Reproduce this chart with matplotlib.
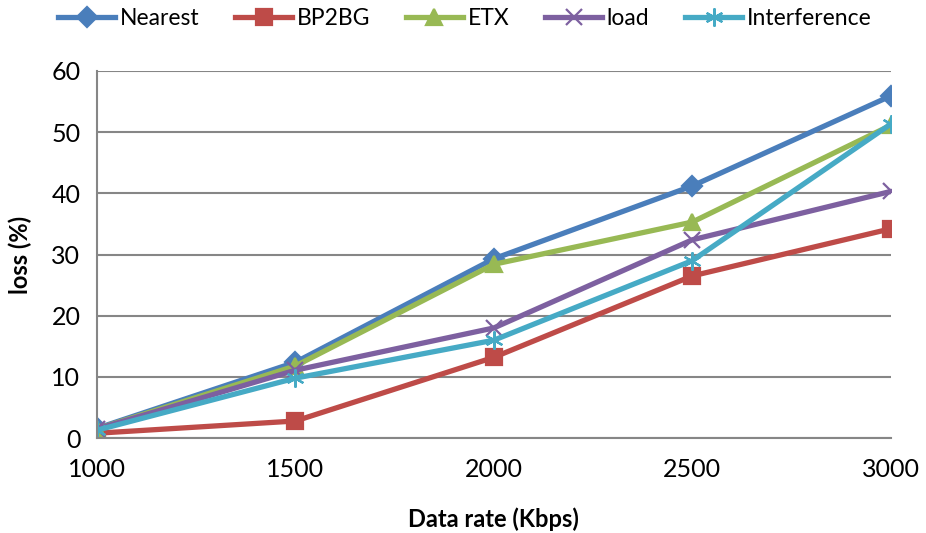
import matplotlib
matplotlib.use("Agg")
import matplotlib.pyplot as plt

# values
data_rate = [1000, 1500, 2000, 2500, 3000]
nearest = [1.6, 12.4, 29.3, 41.2, 55.9]
bp2bg = [0.8, 2.8, 13.2, 26.5, 34.2]
etx = [1.5, 11.8, 28.4, 35.3, 51.1]
load = [1.5, 11.1, 18.0, 32.4, 40.3]
interference = [1.3, 9.8, 16.0, 29.0, 51.3]

series = [
    ("Nearest", nearest, "#4A7EBB", "D", 10),
    ("BP2BG", bp2bg, "#BE4B48", "s", 12),
    ("ETX", etx, "#98B954", "^", 12),
    ("load", load, "#7D60A0", "x", 12),
    ("Interference", interference, "#46AAC5", (6, 2, 0), 13),
]

plt.rcParams['font.family'] = ['Lato', 'DejaVu Sans']

fig = plt.figure(figsize=(9.26, 5.33), dpi=100)
ax = fig.add_axes([0.1048, 0.178, 0.857, 0.689])

for name, vals, color, marker, ms in series:
    ax.plot(data_rate, vals, color=color, lw=3.8, marker=marker, markersize=ms,
            markeredgewidth=1.6, markeredgecolor=color, markerfacecolor=color,
            label=name, solid_joinstyle='round')

ax.set_xlim(1000, 3000)
ax.set_ylim(0, 60)
ax.set_xticks(data_rate)
ax.set_yticks(range(0, 61, 10))
ax.yaxis.grid(True, color="#868686", lw=1.5)
ax.set_axisbelow(True)
for s in ["top", "right"]:
    ax.spines[s].set_visible(False)
for s in ["left", "bottom"]:
    ax.spines[s].set_color("#868686")
    ax.spines[s].set_linewidth(1.5)
ax.tick_params(axis="both", length=0, labelsize=18)
ax.tick_params(axis="x", pad=14)
ax.tick_params(axis="y", pad=12)
ax.set_xlabel("Data rate (Kbps)", fontsize=17, fontweight="bold", labelpad=19)
ax.set_ylabel("loss (%)", fontsize=17, fontweight="bold", labelpad=14)

fig.legend(loc="center", bbox_to_anchor=(0.502, 0.966), ncol=5, frameon=False,
           fontsize=16.5, handlelength=2.5, columnspacing=1.55, handletextpad=0.2)

fig.savefig("out.png", dpi=100)
